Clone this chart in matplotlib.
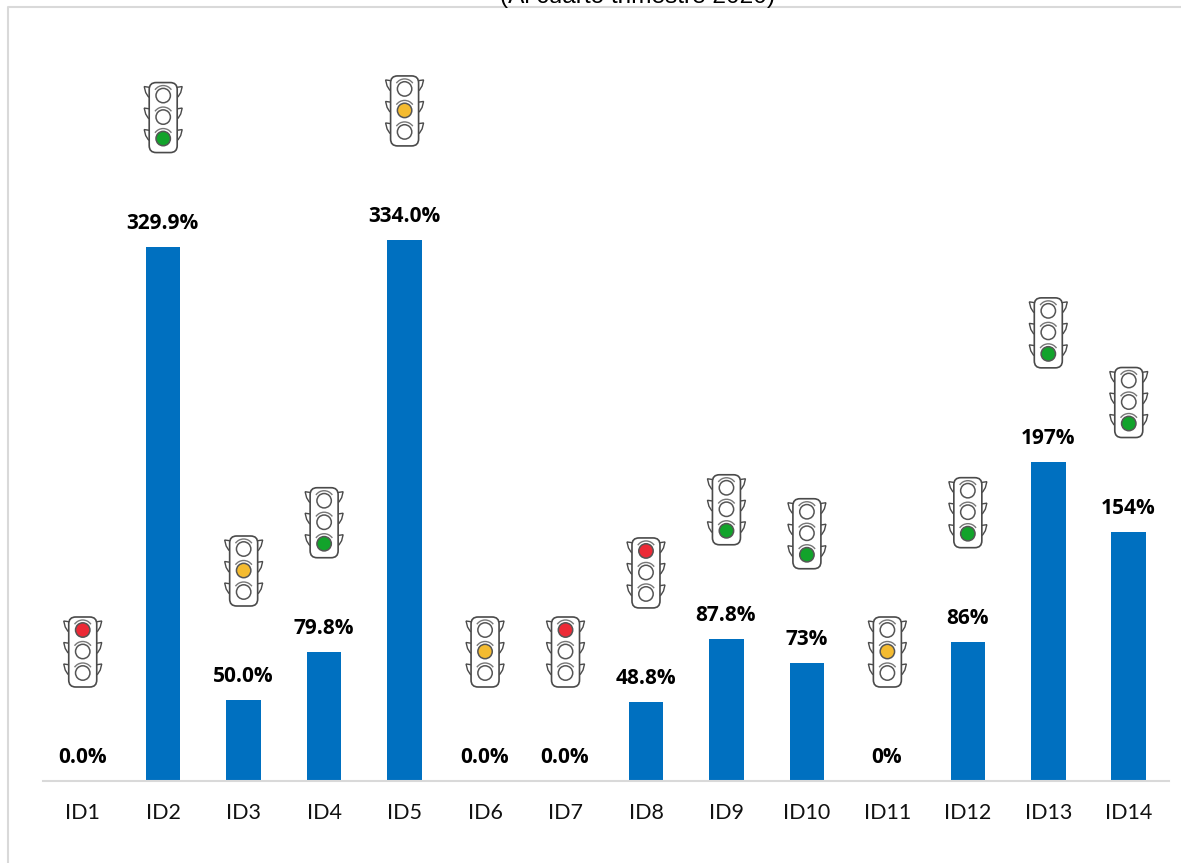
import numpy as np
import matplotlib
matplotlib.use('Agg')
import matplotlib.pyplot as plt
from matplotlib.patches import FancyBboxPatch, Circle, Arc, Polygon
from matplotlib.transforms import Affine2D

plt.rcParams['font.family'] = ['Liberation Sans', 'DejaVu Sans']

categorias = ['ID1', 'ID2', 'ID3', 'ID4', 'ID5', 'ID6', 'ID7', 'ID8', 'ID9', 'ID10', 'ID11', 'ID12', 'ID13', 'ID14']
valores = [0.0, 329.9, 50.0, 79.8, 334.0, 0.0, 0.0, 48.8, 87.8, 73, 0, 86, 197, 154]
etiquetas = ['0.0%', '329.9%', '50.0%', '79.8%', '334.0%', '0.0%', '0.0%', '48.8%', '87.8%', '73%', '0%', '86%', '197%', '154%']
semaforo = ['rojo', 'verde', 'ambar', 'verde', 'ambar', 'ambar', 'rojo', 'rojo', 'verde', 'verde', 'ambar', 'verde', 'verde', 'verde']

colores = {'rojo': '#ec2a36', 'ambar': '#f4bb30', 'verde': '#12a32b'}
posicion_luz = {'rojo': 0, 'ambar': 1, 'verde': 2}
AZUL = '#0070c0'
GRIS = '#d9d9d9'
W, H = 1181, 863


def dibujar_semaforo(ax, x, y, estado):
    # pixel coordinates centred on the light, y grows upward
    t = Affine2D().translate(x, y)
    linea = '#4a4a4a'
    # ears
    for fila in (22, 0.5, -21):
        for lado in (-1, 1):
            ax.add_patch(Polygon([(lado * 12, fila + 8), (lado * 19, fila + 9), (lado * 17.5, fila + 3), (lado * 15, fila - 1), (lado * 12, fila - 3)],
                                 closed=True, fc='white', ec=linea, lw=1.0, transform=t, clip_on=False, zorder=3))
    ax.add_patch(FancyBboxPatch((-10, -31), 20, 62, boxstyle='round,pad=4,rounding_size=7', fc='white', ec=linea, lw=1.2,
                                transform=t, clip_on=False, zorder=4))
    for k, cy in enumerate((22, 0.5, -21)):
        lit = posicion_luz[estado] == k
        ax.add_patch(Circle((0, cy), 7.2, fc=colores[estado] if lit else 'white', ec='#555555', lw=1.1,
                            transform=t, clip_on=False, zorder=5))
        ax.add_patch(Arc((0, cy), 20, 20, theta1=35, theta2=145, ec='#777777', lw=1.0,
                         transform=t, clip_on=False, zorder=5))


fig = plt.figure(figsize=(W / 100, H / 100), dpi=100)
ax = fig.add_axes([42.5 / W, 1 - 781 / H, (1169 - 42.5) / W, (781 - 40) / H])

x = np.arange(len(categorias))
ax.bar(x, valores, width=0.43, color=AZUL, zorder=2)
ax.set_xlim(-0.5, len(categorias) - 0.5)
ax.set_ylim(0, (781 - 40) / 1.62)
ax.set_xticks(x)
ax.set_xticklabels(categorias, fontsize=15.5, fontfamily=['Lato', 'DejaVu Sans'], color='#111111')
ax.tick_params(axis='x', length=0, pad=16)
ax.set_yticks([])
for lado in ('top', 'left', 'right'):
    ax.spines[lado].set_visible(False)
ax.spines['bottom'].set_color(GRIS)
ax.spines['bottom'].set_linewidth(1.5)

for i, (v, txt) in enumerate(zip(valores, etiquetas)):
    ax.annotate(txt, (i, v), xytext=(-0.5, 13), textcoords='offset pixels', ha='center', va='bottom',
                fontsize=15, fontweight='bold', fontfamily=['Open Sans', 'DejaVu Sans'], color='black')
    px, py = ax.transData.transform((i, v))
    dibujar_semaforo(ax, px, py + 129, semaforo[i])

# chart frame, only the top and left edges are visible
fig.add_artist(plt.Line2D([8 / W, 8 / W, 1], [0, 1 - 7.5 / H, 1 - 7.5 / H], color=GRIS, lw=1.5))
fig.text(637 / W, 1 - 3 / H, '(Al cuarto trimestre 2020)', ha='center', va='baseline', fontsize=17.6, color='black')

fig.savefig('out.png', dpi=100)
